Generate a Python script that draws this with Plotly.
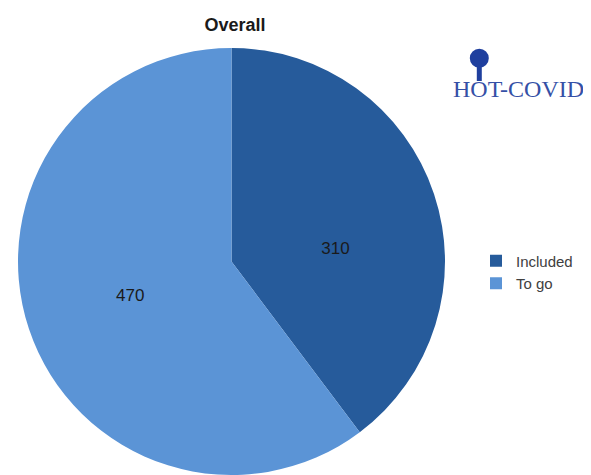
import plotly.graph_objects as go

labels = ["Included", "To go"]
values = [310, 470]
colors = ["#265B9B", "#5B94D6"]
title = "Overall"
logo_text = "HOT-COVID"

# page body adds an 8px offset, so the figure is 8px smaller than the window
W, H = 583, 467
T = 40  # top margin (px)
PH = H - T


def px(x):
    return x / W


def py(y):
    return 1 - (y - T) / PH


fig = go.Figure(go.Pie(
    labels=labels,
    values=values,
    sort=False,
    direction="clockwise",
    rotation=0,
    marker=dict(colors=colors, line=dict(width=0)),
    texttemplate=[" <br> <br>%{value}", "%{value}"],
    textposition="inside",
    insidetextorientation="horizontal",
    textfont=dict(family="Liberation Sans, Arial, sans-serif", size=17, color="#1a1a1a"),
    domain=dict(x=[0, 447 / W], y=[0, 1]),
    hoverinfo="label+value",
))

fig.update_layout(
    width=W, height=H,
    margin=dict(l=0, r=0, t=T, b=0, autoexpand=False),
    paper_bgcolor="white",
    plot_bgcolor="white",
    title=dict(text="<b>" + title + "</b>", x=227 / W, xanchor="center", y=1 - 17 / H, yanchor="middle",
               font=dict(family="Liberation Sans, Arial, sans-serif", size=18, color="#1a1a1a")),
    legend=dict(x=px(468), y=py(264), xanchor="left", yanchor="middle",
                font=dict(family="Liberation Sans, Arial, sans-serif", size=15, color="#404040"),
                bgcolor="rgba(0,0,0,0)"),
    showlegend=True,
)

navy = "#3550A6"
pin = "#1F3F9E"
# logo text
fig.add_annotation(text=logo_text, x=px(510), y=py(80.5), xref="paper", yref="paper",
                   xanchor="center", yanchor="middle", showarrow=False,
                   font=dict(family="Liberation Serif, Times New Roman, serif", size=24, color=navy))
# pin head and neck
fig.add_shape(type="circle", xref="paper", yref="paper",
              x0=px(471.3 - 9.5), x1=px(471.3 + 9.5), y0=py(50.3 + 9.5), y1=py(50.3 - 9.5),
              fillcolor=pin, line=dict(width=0))
fig.add_shape(type="rect", xref="paper", yref="paper",
              x0=px(471.3 - 2.5), x1=px(471.3 + 2.5), y0=py(73), y1=py(55),
              fillcolor=pin, line=dict(width=0))

fig.write_html("out.html")
